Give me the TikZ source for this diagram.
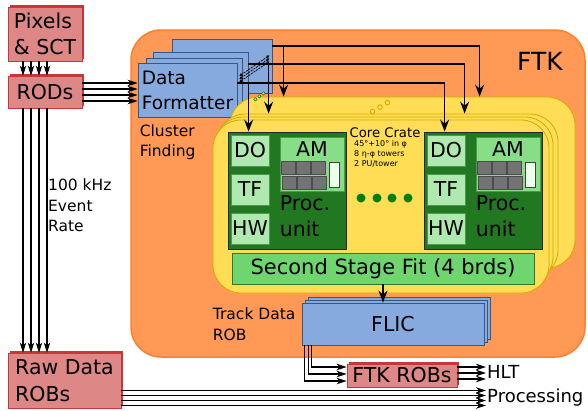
\documentclass[tikz,border=0pt]{standalone}
\usepackage{fontspec}
\setmainfont{DejaVu Sans}
\usetikzlibrary{arrows.meta,shadows}
\definecolor{ftkorange}{HTML}{FF9955}
\definecolor{ftkorangeD}{HTML}{FF7F2A}
\definecolor{robred}{HTML}{DE8787}
\definecolor{robredD}{HTML}{C83737}
\definecolor{boardblue}{HTML}{87AADE}
\definecolor{boardblueD}{HTML}{36577F}
\definecolor{crateyellow}{HTML}{FFDD55}
\definecolor{crateyellowD}{HTML}{D4AA00}
\definecolor{pugreen}{HTML}{217821}
\definecolor{subgreen}{HTML}{AFE9AF}
\definecolor{subgreenD}{HTML}{4A9A4A}
\definecolor{amgreen}{HTML}{87DE87}
\definecolor{ssfgreen}{HTML}{6FD66F}
\definecolor{ssfgreenD}{HTML}{2D7A2D}
\definecolor{dotgreen}{HTML}{008000}

\begin{document}
\begin{tikzpicture}[x=1pt,y=-1pt]
    \tikzstyle{huge text}=[font=\fontsize{25}{30}\selectfont]
    \tikzstyle{large text}=[font=\fontsize{20.5}{26.5}\selectfont]
    \tikzstyle{mid text}=[font=\fontsize{18}{25}\selectfont]
    \tikzstyle{small text}=[font=\fontsize{15.5}{20.5}\selectfont]
    \tikzstyle{crate text}=[font=\fontsize{13.2}{16}\selectfont]
    \tikzstyle{tiny text}=[font=\fontsize{8}{10}\selectfont]
    \tikzstyle{red box}=[draw=robredD,fill=robred,line width=0.8pt,large text,align=left,inner sep=1pt,
        drop shadow={shadow xshift=2pt,shadow yshift=2pt,fill=robredD,opacity=1}]
    \tikzstyle{ftk box}=[draw=ftkorangeD,fill=ftkorange,line width=1.5pt,rounded corners=30pt]
    \tikzstyle{blue box}=[draw=boardblueD,fill=boardblue,line width=0.8pt]
    \tikzstyle{crate box}=[draw=crateyellowD,fill=crateyellow,line width=0.8pt,rounded corners=28pt]
    \tikzstyle{pu box}=[draw=black!85,fill=pugreen,line width=0.8pt]
    \tikzstyle{sub box}=[draw=subgreenD,fill=subgreen,line width=0.8pt,large text,inner sep=0pt,
        minimum width=38pt,minimum height=31pt]
    \tikzstyle{am box}=[draw=subgreenD,fill=amgreen,line width=0.8pt]
    \tikzstyle{ssf box}=[draw=ssfgreenD,fill=ssfgreen,line width=0.8pt]
    \tikzstyle{chip}=[draw=black!70,fill=black!55,line width=0.5pt]
    \tikzstyle{slot}=[draw=black!75,fill=green!8,line width=0.6pt]
    \tikzstyle{arr}=[-{Stealth[length=12pt,width=9pt,inset=4pt]},line width=1.5pt]
    \tikzstyle{bus}=[-{Stealth[length=10pt,width=6.5pt,inset=3pt]},line width=1.2pt]
    \tikzstyle{link}=[{Stealth[length=3.5pt,width=3.5pt]}-{Stealth[length=3.5pt,width=3.5pt]},
        dash pattern=on 2pt off 1pt,line width=0.8pt]

    \useasboundingbox (0,0) rectangle (588,410);

    % FTK frame
    \node(ftk)[ftk box,minimum width=454pt,minimum height=327pt] at (358,193.5){};
    \node(ftklabel)[huge text] at (540,61){FTK};

    % detector side
    \node(pixels)[red box,minimum width=74pt,minimum height=54pt] at (45,34){Pixels\\\& SCT};
    \node(rods)[red box,minimum width=74pt,minimum height=32pt] at (45,92){RODs};
    \node(raw)[red box,minimum width=113pt,minimum height=55pt] at (64.5,380.5){Raw Data\\ROBs};
    \node(rate)[small text,anchor=west,align=left,inner sep=1pt] at (47,205.5){100 kHz\\Event\\Rate};

    % data formatter boards
    \node(df3)[blue box,minimum width=100pt,minimum height=54pt] at (222,66){};
    \node(df2)[blue box,minimum width=95pt,minimum height=55pt] at (200.5,79.5){};
    \node(df1)[blue box,minimum width=96pt,minimum height=54pt] at (194,85){};
    \node(df)[blue box,minimum width=99pt,minimum height=54pt,align=left,inner sep=1pt,
        font=\fontsize{18.5}{25}\selectfont] at (187.5,90){Data\\Formatter};
    \node(cluster)[small text,anchor=north west,align=left,inner sep=2pt] at ([yshift=-5pt]df.south west){Cluster\\Finding};

    % core crates
    \node(crate3)[crate box,minimum width=345pt,minimum height=171pt] at (402.5,182.5){};
    \node(crate2)[crate box,minimum width=341pt,minimum height=164pt] at (387.5,196){};
    \node(crate1)[crate box,minimum width=338pt,minimum height=168pt] at (384,201){};
    \node(crate)[crate box,minimum width=336pt,minimum height=173pt] at (381,206.5){};
    \foreach \i in {0,1,2}
        \draw[crateyellowD,line width=0.8pt] ([xshift={(-30+7.5*\i)*1pt},yshift={(-15+4.5*\i)*1pt}]crate3.north) circle (2.3pt);
    \foreach \i in {0,1,2}
        \draw[dotgreen,fill=subgreen,line width=0.5pt] ([xshift={(-17+4*\i)*1pt},yshift={(-6+3*\i)*1pt}]df3.south east) circle (1.7pt);

    \node(corecrate)[crate text] at (385,132.5){Core Crate};
    \node(crateinfo)[tiny text,anchor=north west,align=left,inner sep=0pt] at (354,140){45°+10° in φ\\8 η-φ towers\\2 PU/tower};
    \foreach \x in {361,377,392,408}
        \fill[dotgreen] (\x,198) circle (4.5pt);

    % processing units
    \foreach \n/\x in {pul/287,pur/483}{
        \node(\n)[pu box,minimum width=118pt,minimum height=117pt] at (\x,190.5){};
        \node(\n-do)[sub box,anchor=north west] at ([xshift=3pt,yshift=-3pt]\n.north west){DO};
        \node(\n-tf)[sub box,anchor=north west] at ([xshift=3pt,yshift=-42pt]\n.north west){TF};
        \node(\n-hw)[sub box,anchor=north west] at ([xshift=3pt,yshift=-81pt]\n.north west){HW};
        \node(\n-am)[am box,anchor=north west,minimum width=64pt,minimum height=54pt] at ([xshift=52pt,yshift=-5pt]\n.north west){};
        \node(\n-amlabel)[large text,anchor=north,inner sep=0pt] at ([yshift=-5pt]\n-am.north){AM};
        \foreach \i in {0,1,2}
            \foreach \j in {0,1}
                \draw[chip] ([xshift={(2+15*\i+\j)*1pt},yshift={-(25+15*\j)*1pt}]\n-am.north west) rectangle ++(14,13);
        \draw[slot] ([xshift=50pt,yshift=-26pt]\n-am.north west) rectangle ++(10,25);
        \node(\n-label)[anchor=west,align=left,inner sep=0pt,font=\fontsize{20.5}{26}\selectfont]
            at ([xshift=52pt,yshift=-85pt]\n.north west){Proc.\\unit};
    }

    \node(ssf)[ssf box,minimum width=302pt,minimum height=31pt,font=\fontsize{21}{25}\selectfont] at (383,268.5){Second Stage Fit (4 brds)};

    % FLIC boards
    \node(flic2)[blue box,minimum width=182pt,minimum height=42pt] at (399,318){};
    \node(flic1)[blue box,minimum width=182pt,minimum height=42pt] at (396,321){};
    \node(flic)[blue box,minimum width=182pt,minimum height=42pt,large text] at (393,324){FLIC};
    \node(trackrob)[small text,anchor=east,align=left,inner sep=1pt] at ([xshift=-5pt]flic.west){Track Data\\ROB};

    % outputs
    \node(ftkrob)[red box,minimum width=110pt,minimum height=23pt,inner sep=0pt] at (402,375.5){FTK ROBs};
    \node(hlt)[mid text,anchor=west,inner sep=1pt] at (486,372){HLT};
    \node(processing)[mid text,anchor=west,inner sep=1pt] at (486,398){Processing};

    % links between formatter boards
    \foreach \s in {0,3,6}
        \draw[link] ([xshift=2pt,yshift={(8+\s)*1pt}]df.east) -- ([xshift=-3pt,yshift={(32+\s)*1pt}]df3.south east);

    % connectors
    \foreach \dx in {-22,-14,-6,2}{
        \draw[bus] ([xshift=\dx pt]pixels.south) -- ([xshift=\dx pt]rods.north);
        \path ([xshift=\dx pt]rods.south) coordinate (p);
        \draw[bus] (p) -- (p |- raw.north);
    }
    \foreach \dy in {9,3,-3,-9}{
        \path ([yshift=\dy pt]rods.east) coordinate (p);
        \draw[bus] (p) -- (p -| df.west);
    }
    \foreach \dy in {-10,-15,-20,-25}{
        \path ([yshift=\dy pt]raw.east) coordinate (p);
        \draw[bus] (p) -- (p -| processing.west);
    }
    \foreach \dy in {8.5,2.5,-3.5}{
        \path ([yshift=\dy pt]ftkrob.east) coordinate (p);
        \draw[bus] (p) -- (p -| hlt.west);
    }
    \foreach \dx/\dy in {3/-5.5,6.5/1.5,10/8.5}{
        \path ([xshift=\dx pt]flic.south west) coordinate (p);
        \path ([yshift=\dy pt]ftkrob.west) coordinate (q);
        \draw[bus] (p) |- (q);
    }
    \draw[arr] (ssf.south) -- (ssf.south |- flic.north);

    \coordinate (busA) at ([yshift=20pt]df3.east);
    \coordinate (busB) at ([yshift=15.5pt]df2.east);
    \coordinate (busC) at ([yshift=7pt]df.east);
    \foreach \n in {pul,pur}
        \path ([xshift=21pt]\n.north west) coordinate (\n-c)
              ([xshift=41pt]\n.north west) coordinate (\n-b)
              ([xshift=56pt]\n.north west) coordinate (\n-a);
    \draw[arr] (busA) -| (pur-a |- crate3.north);
    \draw[arr] (busA -| pul-a) -- (pul-a |- crate3.north);
    \draw[arr] (busB) -| (pur-b |- crate2.north);
    \draw[arr] (busB -| pul-b) -- (pul-b |- crate2.north);
    \draw[arr] (busC) -| (pur-c);
    \draw[arr] (busC -| pul-c) -- (pul-c);
\end{tikzpicture}
\end{document}
